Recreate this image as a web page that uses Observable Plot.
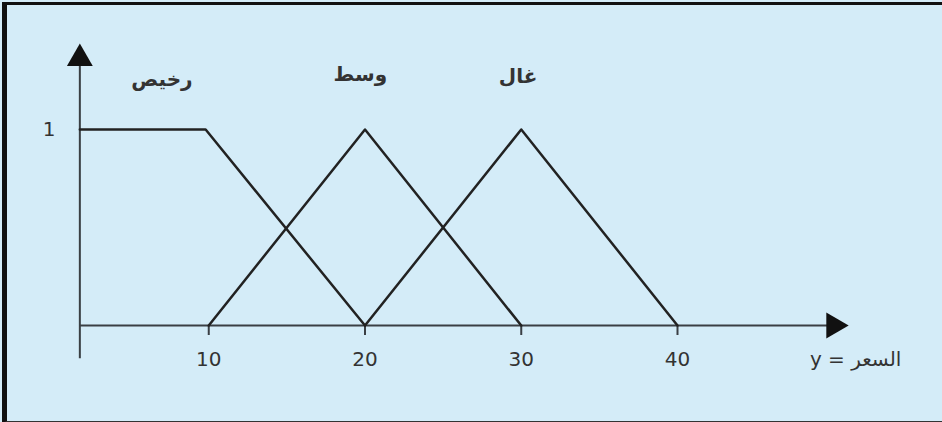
<!DOCTYPE html>
<html>
<head>
<meta charset="utf-8">
<script src="https://cdn.jsdelivr.net/npm/d3@7"></script>
<script src="https://cdn.jsdelivr.net/npm/@observablehq/plot@0.6"></script>
<style>
  html, body { margin: 0; padding: 0; background: #ffffff; }
  #wrap { position: relative; width: 942px; height: 422px; overflow: hidden; }
  #border { position: absolute; left: 2px; top: 2px; width: 960px; height: 416px;
            border-left: 5px solid #111; border-top: 3px solid #111; border-bottom: 2px solid #333;
            pointer-events: none; }
</style>
</head>
<body>
<div id="wrap"><div id="border"></div></div>
<script>
// Membership functions (price x, membership μ)
const cheapX = [1.75, 9.8, 20];
const cheapY = [1, 1, 0];
const mediumX = [10, 20, 30];
const mediumY = [0, 1, 0];
const highX = [20, 30, 40];
const highY = [0, 1, 0];

// Category labels
const labelNames = ["رخيص", "وسط", "غال"];
const labelX = [7.0, 19.7, 29.8];
const labelY = [1.255, 1.28, 1.27];

// Axis ticks
const xTicks = [10, 20, 30, 40];
const yTicks = [1];
const axisTitle = "y = السعر";

// Axis extents (data units)
const originX = 1.75;
const xAxisEnd = 50.0;
const yAxisBottom = -0.17;
const yAxisEnd = 1.362;

const toPts = (name, xs, ys) => xs.map((x, i) => ({name, x, y: ys[i]}));
const curves = [
  ...toPts("cheap", cheapX, cheapY),
  ...toPts("medium", mediumX, mediumY),
  ...toPts("high", highX, highY)
];
const labels = labelNames.map((t, i) => ({t, x: labelX[i], y: labelY[i]}));

const triRight = {
  draw(ctx, size) {
    const y = -Math.sqrt(size / (Math.sqrt(3) * 3));
    ctx.moveTo(-y * 2, 0);
    ctx.lineTo(y, -Math.sqrt(3) * y);
    ctx.lineTo(y, Math.sqrt(3) * y);
    ctx.closePath();
  }
};

const chart = Plot.plot({
  width: 942,
  height: 422,
  marginLeft: 52,
  marginRight: 265,
  marginTop: 129,
  marginBottom: 97,
  x: {domain: [0, 40]},
  y: {domain: [0, 1]},
  style: {background: "#d4ecf8", fontFamily: "DejaVu Sans", overflow: "visible"},
  marks: [
    // axes lines
    Plot.ruleY([0], {x1: originX, x2: xAxisEnd, stroke: "#3a3f44", strokeWidth: 2}),
    Plot.ruleX([originX], {y1: yAxisBottom, y2: yAxisEnd, stroke: "#3a3f44", strokeWidth: 2}),
    // arrow heads
    Plot.dot([{x: originX, y: yAxisEnd}], {x: "x", y: "y", symbol: "triangle", r: 9.6, fill: "#111", stroke: "none"}),
    Plot.dot([{x: xAxisEnd, y: 0}], {x: "x", y: "y", symbol: triRight, r: 9.6, fill: "#111", stroke: "none"}),
    // ticks and labels
    Plot.axisX({ticks: xTicks, tickSize: 10, tickPadding: 16, strokeWidth: 2, stroke: "#3a3f44",
                fontSize: 20, fill: "#333", label: null, tickFormat: d => String(d)}),
    Plot.axisY({ticks: yTicks, tickSize: 0, tickPadding: 0, dx: 3, fontSize: 20, fill: "#333",
                label: null, tickFormat: d => String(d)}),
    // membership lines
    Plot.line(curves, {x: "x", y: "y", z: "name", stroke: "#222", strokeWidth: 2.5}),
    // category labels
    Plot.text(labels, {x: "x", y: "y", text: "t", fontSize: 20, fontWeight: "bold", fill: "#333", fontFamily: "DejaVu Sans"}),
    // axis title
    Plot.text([axisTitle], {x: 51.4, y: -0.175, text: d => d, fontSize: 20, fill: "#333", fontFamily: "DejaVu Sans"})
  ]
});
chart.style.position = "absolute";
chart.style.left = "0px";
chart.style.top = "0px";
document.getElementById("wrap").insertBefore(chart, document.getElementById("border"));
</script>
</body>
</html>
